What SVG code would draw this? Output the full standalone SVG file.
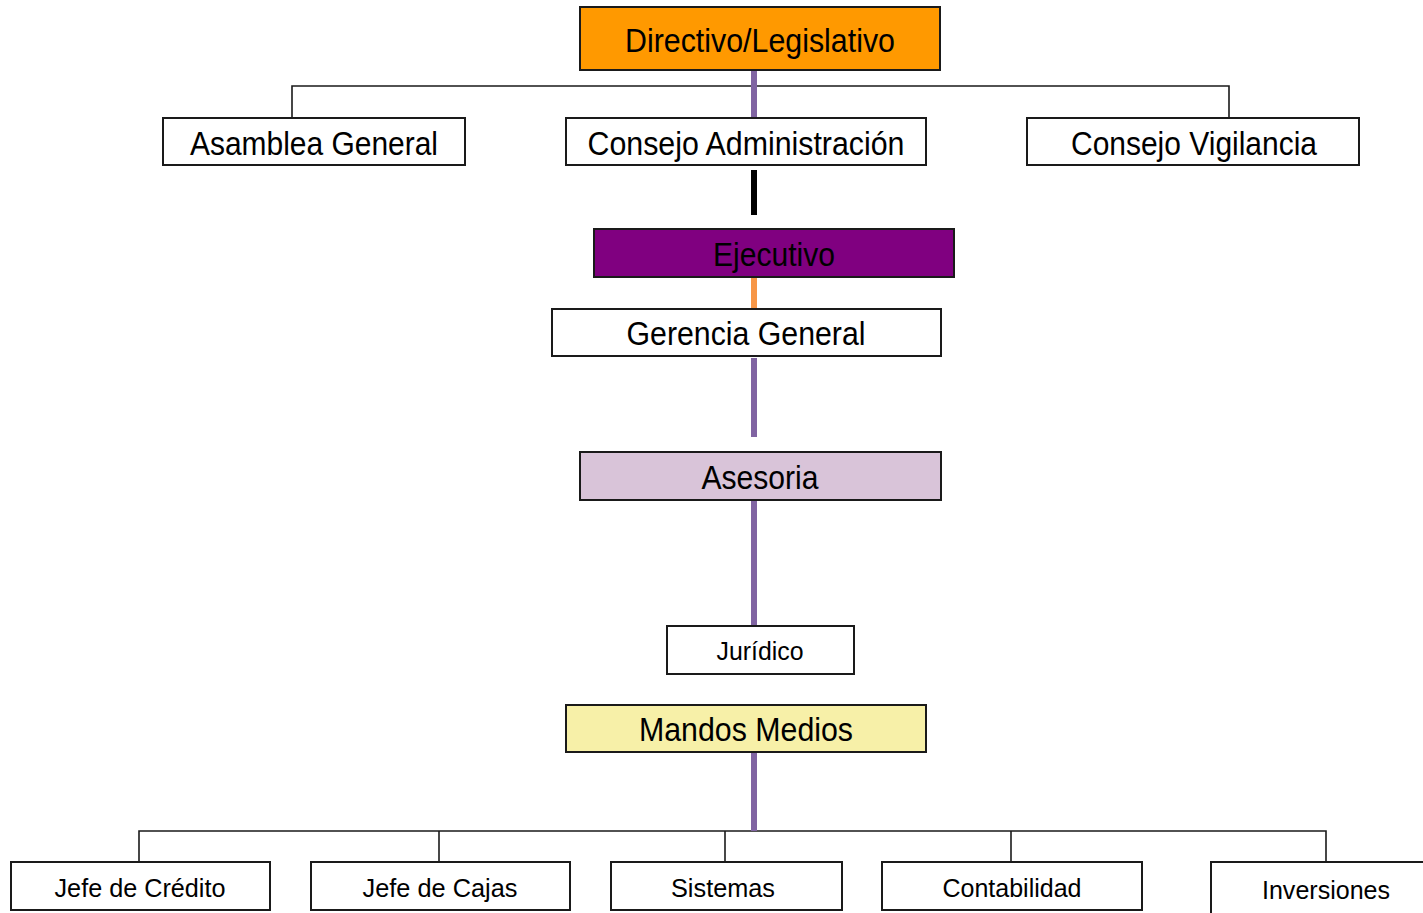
<svg xmlns="http://www.w3.org/2000/svg" width="1423" height="913" viewBox="0 0 1423 913">
<style>
.box{stroke:#1a1a1a;stroke-width:2}
.w{fill:#ffffff}
.t{font-family:"Liberation Sans",Arial,sans-serif;fill:#000;text-anchor:middle}
.big{font-size:34px}
.sm{font-size:25px}
.ln{fill:none;stroke:#1a1a1a;stroke-width:1.6}
.bar{stroke-width:6;fill:none}
</style>
<rect width="1423" height="913" fill="#ffffff"/>
<g id="connectors">
<polyline class="ln" points="292,118 292,86 1229,86 1229,118"/>
<polyline class="ln" points="139,862 139,831 1326,831 1326,862"/>
<line class="ln" x1="439" y1="831" x2="439" y2="862"/>
<line class="ln" x1="725" y1="831" x2="725" y2="862"/>
<line class="ln" x1="1011" y1="831" x2="1011" y2="862"/>
<line class="bar" x1="754" y1="70" x2="754" y2="117" stroke="#8064A2"/>
<line class="bar" x1="754" y1="170" x2="754" y2="215" stroke="#000000"/>
<line class="bar" x1="754" y1="278" x2="754" y2="309" stroke="#F79646"/>
<line class="bar" x1="754" y1="358" x2="754" y2="437" stroke="#8064A2"/>
<line class="bar" x1="754" y1="501" x2="754" y2="626" stroke="#8064A2"/>
<line class="bar" x1="754" y1="753" x2="754" y2="831" stroke="#8064A2"/>
</g>
<g id="directivo">
<rect class="box" x="580" y="7" width="360" height="63" fill="#FF9900"/>
<text class="t big" x="760" y="52" textLength="270" lengthAdjust="spacingAndGlyphs">Directivo/Legislativo</text>
</g>
<g id="asamblea">
<rect class="box w" x="163" y="118" width="302" height="47"/>
<text class="t big" x="314" y="155" textLength="248" lengthAdjust="spacingAndGlyphs">Asamblea General</text>
</g>
<g id="consejo-admin">
<rect class="box w" x="566" y="118" width="360" height="47"/>
<text class="t big" x="746" y="155" textLength="317" lengthAdjust="spacingAndGlyphs">Consejo Administración</text>
</g>
<g id="consejo-vigilancia">
<rect class="box w" x="1027" y="118" width="332" height="47"/>
<text class="t big" x="1194" y="155" textLength="246" lengthAdjust="spacingAndGlyphs">Consejo Vigilancia</text>
</g>
<g id="ejecutivo">
<rect class="box" x="594" y="229" width="360" height="48" fill="#800080"/>
<text class="t big" x="774" y="266" textLength="122" lengthAdjust="spacingAndGlyphs">Ejecutivo</text>
</g>
<g id="gerencia">
<rect class="box w" x="552" y="309" width="389" height="47"/>
<text class="t big" x="746" y="345" textLength="239" lengthAdjust="spacingAndGlyphs">Gerencia General</text>
</g>
<g id="asesoria">
<rect class="box" x="580" y="452" width="361" height="48" fill="#D9C4D9"/>
<text class="t big" x="760" y="489" textLength="117" lengthAdjust="spacingAndGlyphs">Asesoria</text>
</g>
<g id="juridico">
<rect class="box w" x="667" y="626" width="187" height="48"/>
<text class="t sm" x="760" y="660" textLength="87" lengthAdjust="spacingAndGlyphs">Jurídico</text>
</g>
<g id="mandos">
<rect class="box" x="566" y="705" width="360" height="47" fill="#F7F0A8"/>
<text class="t big" x="746" y="741" textLength="214" lengthAdjust="spacingAndGlyphs">Mandos Medios</text>
</g>
<g id="credito">
<rect class="box w" x="11" y="862" width="259" height="48"/>
<text class="t sm" x="140" y="897" textLength="171" lengthAdjust="spacingAndGlyphs">Jefe de Crédito</text>
</g>
<g id="cajas">
<rect class="box w" x="311" y="862" width="259" height="48"/>
<text class="t sm" x="440" y="897" textLength="155" lengthAdjust="spacingAndGlyphs">Jefe de Cajas</text>
</g>
<g id="sistemas">
<rect class="box w" x="611" y="862" width="231" height="48"/>
<text class="t sm" x="723" y="897" textLength="104" lengthAdjust="spacingAndGlyphs">Sistemas</text>
</g>
<g id="contabilidad">
<rect class="box w" x="882" y="862" width="260" height="48"/>
<text class="t sm" x="1012" y="897" textLength="139" lengthAdjust="spacingAndGlyphs">Contabilidad</text>
</g>
<g id="inversiones">
<rect class="box w" x="1211" y="862" width="230" height="60"/>
<text class="t sm" x="1326" y="899" textLength="128" lengthAdjust="spacingAndGlyphs">Inversiones</text>
</g>
</svg>
